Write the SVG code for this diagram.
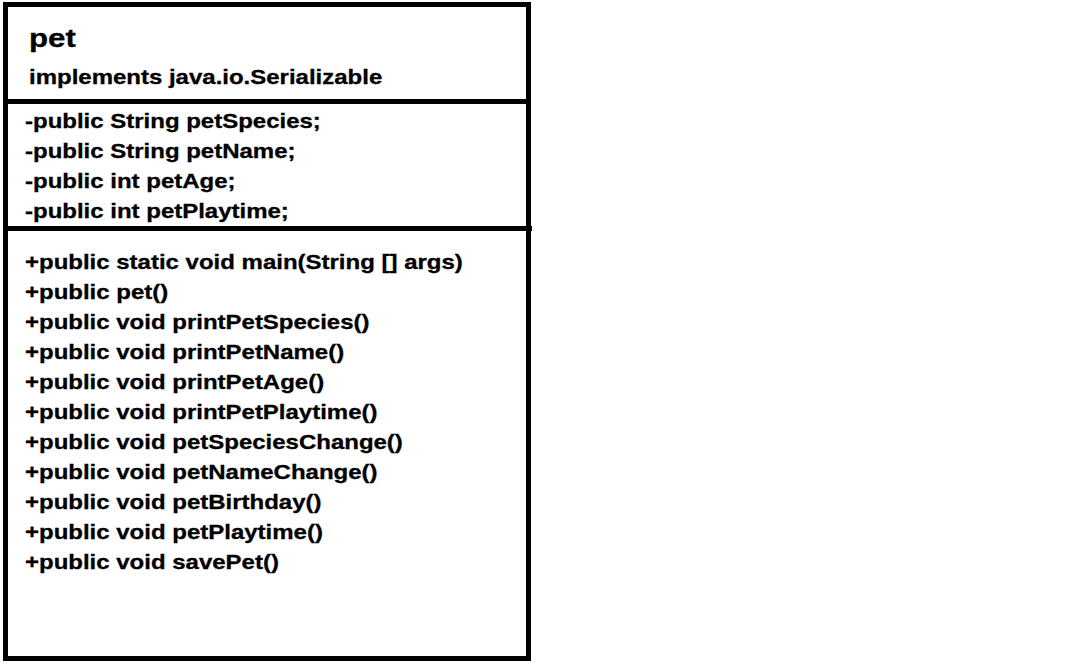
<svg xmlns="http://www.w3.org/2000/svg" width="1084" height="672" viewBox="0 0 1084 672">
<style>
.t{font-family:"Liberation Sans",Arial,sans-serif;font-weight:bold;font-size:20px;fill:#000;stroke:#000;stroke-width:0.3}
.title{font-size:26px}
.ln{stroke:#000;stroke-width:5;fill:none}
</style>
<rect width="1084" height="672" fill="#fff"/>
<g id="class-pet">
<rect class="ln" x="5.5" y="4.5" width="523" height="654" fill="#fff"/>
<line class="ln" x1="3" y1="101.5" x2="531" y2="101.5"/>
<line class="ln" x1="3" y1="228.5" x2="532" y2="228.5"/>
<g transform="scale(1.2,1)">
<text class="t title" x="24.17" y="47">pet</text>
<text class="t" x="24.17" y="84">implements java.io.Serializable</text>
<text class="t" x="20.83" y="128">-public String petSpecies;</text>
<text class="t" x="20.83" y="158">-public String petName;</text>
<text class="t" x="20.83" y="188">-public int petAge;</text>
<text class="t" x="20.83" y="218">-public int petPlaytime;</text>
<text class="t" x="20.83" y="269">+public static void main(String [] args)</text>
<text class="t" x="20.83" y="299">+public pet()</text>
<text class="t" x="20.83" y="329">+public void printPetSpecies()</text>
<text class="t" x="20.83" y="359">+public void printPetName()</text>
<text class="t" x="20.83" y="389">+public void printPetAge()</text>
<text class="t" x="20.83" y="419">+public void printPetPlaytime()</text>
<text class="t" x="20.83" y="449">+public void petSpeciesChange()</text>
<text class="t" x="20.83" y="479">+public void petNameChange()</text>
<text class="t" x="20.83" y="509">+public void petBirthday()</text>
<text class="t" x="20.83" y="539">+public void petPlaytime()</text>
<text class="t" x="20.83" y="569">+public void savePet()</text>
</g>
</g>
<g id="connectors"></g>
</svg>
